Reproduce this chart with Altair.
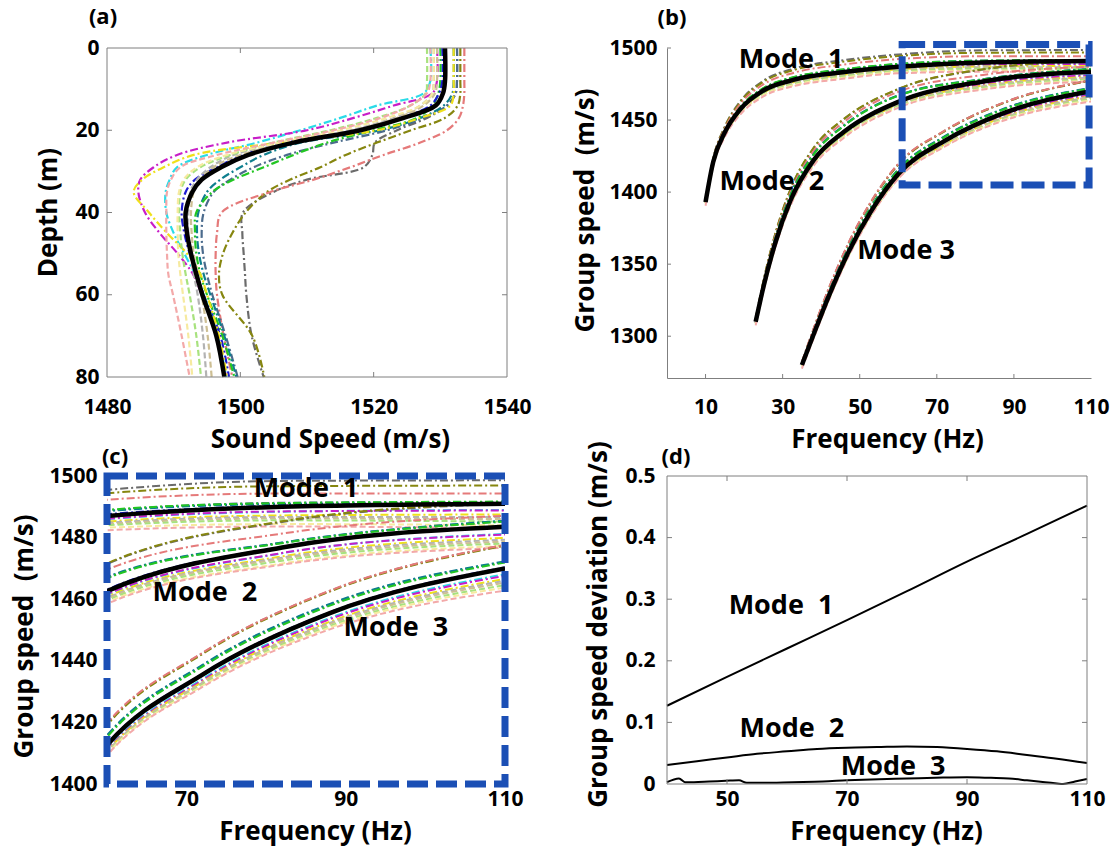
import altair as alt
import pandas as pd

FONT = "Open Sans"
BLUE = "#1b4fb5"
GREY = "#7f7f7f"

# ---------------- (a) sound speed profiles ----------------
DEPTH = [0, 8, 11, 14, 17, 20, 23, 26, 29, 32, 35, 40, 45, 50, 55, 60, 70, 80]
SSP_MEAN = [1530.7, 1530.7, 1530.4, 1529.3, 1524.5, 1518.0, 1508.0, 1501.2, 1497.1,
            1494.2, 1492.8, 1491.8, 1492.0, 1492.6, 1493.4, 1494.3, 1496.4, 1497.6]

PROFILES = ["dgrey", "olive", "salmon", "slate", "teal", "green", "blue", "cyan",
            "magenta", "yellow", "lgrey", "khaki", "lgreen", "lyellow", "pink"]
COLORS = ["#6b6b6b", "#86860f", "#e57a7a", "#4b6b8d", "#0e7e8e", "#22c622", "#1c1cd2",
          "#2adbe8", "#c81ec8", "#efe01a", "#b3b3b3", "#cdbf94", "#a8e27e", "#f6eaa0", "#f3a9a9"]
DASH_STYLE = ["dashdot"] * 10 + ["dashed"] * 5

SSP = {
    "dgrey":   [1532.5, 1532.5, 1532.3, 1531.0, 1528.0, 1523.5, 1520.2, 1519.8, 1518.5, 1510.0, 1505.0, 1500.4, 1500.3, 1500.5, 1500.7, 1500.9, 1501.7, 1503.5],
    "olive":   [1533.0, 1533.0, 1533.0, 1532.6, 1530.7, 1525.6, 1520.5, 1515.8, 1512.0, 1507.5, 1504.0, 1500.8, 1498.8, 1497.4, 1496.8, 1497.3, 1501.8, 1503.6],
    "salmon":  [1533.6, 1533.6, 1533.6, 1533.4, 1532.8, 1531.0, 1527.0, 1521.5, 1516.5, 1511.0, 1504.5, 1497.2, 1496.5, 1496.3, 1496.3, 1496.5, 1497.5, 1498.8],
    "slate":   [1532.5, 1532.5, 1532.3, 1531.0, 1527.5, 1522.0, 1514.0, 1507.0, 1502.0, 1498.5, 1496.0, 1494.5, 1494.2, 1494.4, 1495.0, 1495.8, 1497.8, 1499.6],
    "teal":    [1532.0, 1532.0, 1531.8, 1530.5, 1527.0, 1521.0, 1509.0, 1503.5, 1500.0, 1497.0, 1495.0, 1493.7, 1493.5, 1493.8, 1494.5, 1495.5, 1497.6, 1499.4],
    "green":   [1530.0, 1530.0, 1529.7, 1528.8, 1526.5, 1520.0, 1513.0, 1508.0, 1503.5, 1499.0, 1495.8, 1493.4, 1493.2, 1493.4, 1494.0, 1495.0, 1497.3, 1499.1],
    "blue":    [1530.3, 1530.3, 1529.8, 1528.5, 1524.0, 1517.0, 1507.0, 1500.5, 1496.5, 1493.2, 1491.8, 1491.2, 1491.6, 1492.4, 1493.5, 1494.5, 1497.0, 1498.3],
    "cyan":    [1528.5, 1528.5, 1527.5, 1520.5, 1515.0, 1509.0, 1502.5, 1495.0, 1490.5, 1489.4, 1488.8, 1488.9, 1490.0, 1491.6, 1493.2, 1494.5, 1496.6, 1497.9],
    "magenta": [1529.5, 1529.5, 1528.8, 1523.0, 1517.0, 1510.0, 1498.0, 1490.5, 1487.0, 1485.0, 1484.7, 1485.7, 1487.9, 1490.6, 1492.9, 1494.2, 1496.4, 1497.9],
    "yellow":  [1532.0, 1532.0, 1532.0, 1531.5, 1527.0, 1520.5, 1506.0, 1493.0, 1488.5, 1485.3, 1484.0, 1486.3, 1489.0, 1492.0, 1494.0, 1495.0, 1496.8, 1498.0],
    "lgrey":   [1529.0, 1529.0, 1528.8, 1527.0, 1523.0, 1516.5, 1507.0, 1499.0, 1495.5, 1493.5, 1492.5, 1492.2, 1492.2, 1492.5, 1493.0, 1493.6, 1494.4, 1494.9],
    "khaki":   [1529.5, 1529.5, 1529.2, 1527.5, 1523.5, 1517.0, 1507.5, 1500.0, 1496.0, 1494.0, 1493.0, 1492.6, 1492.7, 1493.0, 1493.6, 1494.2, 1495.1, 1495.7],
    "lgreen":  [1528.0, 1528.0, 1527.8, 1525.5, 1520.5, 1513.5, 1505.0, 1498.5, 1494.0, 1491.8, 1491.0, 1490.8, 1491.0, 1491.3, 1491.8, 1492.4, 1493.4, 1494.1],
    "lyellow": [1529.0, 1529.0, 1528.8, 1527.0, 1522.0, 1515.0, 1506.0, 1498.0, 1493.5, 1491.5, 1490.8, 1490.6, 1490.6, 1490.7, 1491.0, 1491.4, 1492.2, 1492.8],
    "pink":    [1528.5, 1528.5, 1528.0, 1525.5, 1521.0, 1514.0, 1505.0, 1496.5, 1491.0, 1489.6, 1489.0, 1488.9, 1488.9, 1489.0, 1489.2, 1489.9, 1491.2, 1492.4],
}

# ---------------- (b)/(c) group speed ----------------
F1 = [10, 12, 15, 19, 25, 33, 45, 60, 82, 110]
GS1 = [1393.0, 1421.0, 1441.5, 1457.5, 1470.5, 1478.0, 1483.0, 1487.0, 1490.0, 1491.0]
F2 = [23, 25, 28, 32, 38, 46, 60, 82, 110]
GS2 = [1310.0, 1334.0, 1364.0, 1394.0, 1422.0, 1442.0, 1462.6, 1476.8, 1483.5]
F3 = [35, 38, 42, 47, 53, 60, 72, 88, 110]
GS3 = [1280.0, 1301.0, 1328.0, 1358.0, 1387.0, 1412.6, 1435.5, 1455.5, 1470.0]

# deviation of each profile's group speed from the mean curve (m/s)
OFF1 = {
    "dgrey":   [1.0, 2.5, 4.0, 5.5, 6.8, 7.8, 8.3, 8.5, 8.4, 7.6],
    "olive":   [0.9, 2.2, 3.6, 4.9, 6.0, 6.8, 7.2, 7.4, 6.7, 5.9],
    "salmon":  [0.7, 1.6, 2.6, 3.5, 4.3, 4.9, 5.2, 5.3, 4.3, 3.3],
    "slate":   [0.3, 0.7, 1.0, 1.3, 1.5, 1.7, 1.8, 1.8, 1.3, 0.6],
    "teal":    [0.3, 0.6, 0.9, 1.1, 1.3, 1.5, 1.6, 1.6, 0.9, 0.2],
    "green":   [0.3, 0.7, 1.1, 1.4, 1.7, 1.9, 2.0, 2.0, 1.2, 0.7],
    "blue":    [0.1, 0.2, 0.3, 0.4, 0.5, 0.6, 0.6, 0.6, 0.3, 0.1],
    "cyan":    [-0.2, -0.4, -0.6, -0.8, -0.9, -1.0, -1.0, -1.0, -1.6, -2.0],
    "magenta": [-0.2, -0.4, -0.6, -0.7, -0.8, -0.9, -0.9, -0.9, -1.5, -2.2],
    "yellow":  [-0.4, -0.8, -1.1, -1.4, -1.6, -1.7, -1.8, -1.8, -2.8, -3.5],
    "lgrey":   [-0.5, -0.9, -1.3, -1.7, -1.9, -2.1, -2.2, -2.2, -3.3, -4.3],
    "khaki":   [-0.6, -1.1, -1.6, -2.0, -2.3, -2.5, -2.6, -2.6, -3.8, -5.0],
    "lgreen":  [-0.7, -1.3, -1.8, -2.3, -2.6, -2.9, -3.0, -3.0, -4.4, -5.8],
    "lyellow": [-0.9, -1.6, -2.3, -2.9, -3.3, -3.6, -3.8, -3.8, -5.6, -7.0],
    "pink":    [-2.5, -2.8, -3.2, -3.7, -4.1, -4.4, -4.6, -4.6, -6.4, -8.0],
}
OFF2 = {
    "dgrey":   [2.0, 4.0, 6.0, 7.5, 8.4, 8.8, 8.8, 8.3, 7.5],
    "olive":   [2.0, 4.2, 6.3, 7.8, 8.6, 9.0, 9.0, 8.5, 7.7],
    "salmon":  [1.5, 3.0, 4.5, 5.5, 6.3, 6.8, 7.0, 4.5, 3.6],
    "slate":   [0.8, 1.8, 2.8, 3.6, 4.1, 4.3, 4.4, 1.5, 1.9],
    "teal":    [0.9, 1.9, 3.0, 3.8, 4.3, 4.6, 4.6, 1.6, 2.0],
    "green":   [0.7, 1.6, 2.5, 3.3, 3.8, 4.1, 4.2, 1.4, 1.7],
    "blue":    [0.2, 0.3, 0.4, 0.5, 0.5, 0.5, 0.5, 0.2, 0.1],
    "cyan":    [-0.5, -0.8, -1.0, -1.1, -1.2, -1.2, -1.2, -1.9, -2.3],
    "magenta": [-0.4, -0.7, -0.9, -1.0, -1.0, -1.0, -1.0, -1.8, -2.5],
    "yellow":  [-0.7, -1.1, -1.4, -1.6, -1.7, -1.8, -1.8, -2.9, -3.6],
    "lgrey":   [-0.8, -1.3, -1.7, -1.9, -2.1, -2.2, -2.2, -3.3, -4.2],
    "khaki":   [-0.9, -1.5, -1.9, -2.2, -2.4, -2.5, -2.5, -3.7, -4.8],
    "lgreen":  [-1.1, -1.8, -2.3, -2.7, -2.9, -3.0, -3.0, -4.3, -5.4],
    "lyellow": [-1.4, -2.2, -2.8, -3.2, -3.5, -3.6, -3.6, -5.2, -6.2],
    "pink":    [-2.5, -3.0, -3.4, -3.7, -3.9, -4.1, -4.1, -5.6, -6.8],
}
OFF3 = {
    "dgrey":   [2.0, 3.8, 5.2, 6.0, 6.5, 6.8, 7.0, 7.2, 7.6],
    "olive":   [1.8, 3.5, 4.8, 5.6, 6.1, 6.5, 6.7, 7.0, 7.4],
    "salmon":  [2.2, 4.0, 5.5, 6.3, 6.8, 7.1, 7.1, 7.3, 7.7],
    "slate":   [0.8, 1.6, 2.3, 2.7, 2.9, 3.0, 3.0, 2.8, 2.1],
    "teal":    [0.9, 1.8, 2.5, 2.9, 3.1, 3.2, 3.2, 3.0, 2.3],
    "green":   [0.7, 1.4, 2.0, 2.3, 2.5, 2.6, 2.6, 2.4, 1.9],
    "blue":    [0.1, 0.2, 0.3, 0.3, 0.3, 0.3, 0.3, 0.3, 0.3],
    "cyan":    [-0.4, -0.8, -1.1, -1.3, -1.4, -1.4, -1.4, -1.6, -1.9],
    "magenta": [-0.5, -0.9, -1.3, -1.5, -1.6, -1.7, -1.8, -2.0, -2.4],
    "yellow":  [-0.6, -1.1, -1.5, -1.8, -1.9, -2.0, -2.3, -2.8, -3.4],
    "lgrey":   [-0.7, -1.2, -1.7, -2.0, -2.1, -2.2, -2.6, -3.2, -4.0],
    "khaki":   [-0.8, -1.4, -1.9, -2.2, -2.4, -2.5, -2.9, -3.6, -4.6],
    "lgreen":  [-0.9, -1.6, -2.2, -2.5, -2.7, -2.8, -3.3, -4.2, -5.4],
    "lyellow": [-1.0, -1.8, -2.4, -2.8, -2.9, -3.0, -3.6, -4.7, -6.2],
    "pink":    [-2.5, -2.8, -3.0, -3.2, -3.3, -3.3, -4.0, -5.3, -7.2],
}

# ---------------- (d) group speed deviation ----------------
DEV_F1 = [40, 50, 60, 70, 80, 90, 100, 110]
DEV_1 = [0.127, 0.174, 0.220, 0.266, 0.313, 0.361, 0.406, 0.452]
DEV_F2 = [40, 45, 50, 55, 60, 65, 70, 75, 80, 85, 90, 95, 100, 105, 110]
DEV_2 = [0.031, 0.037, 0.043, 0.049, 0.053, 0.057, 0.059, 0.060, 0.061, 0.060, 0.057, 0.053, 0.047, 0.041, 0.034]
DEV_F3 = [40, 42, 43, 44.5, 47, 50.5, 52, 53.3, 56, 61, 66, 70, 74, 78, 82, 86, 90, 94, 97, 100, 103, 105, 106, 108, 110]
DEV_3 = [0.003, 0.009, 0.003, 0.003, 0.004, 0.0055, 0.006, 0.002, 0.002, 0.003, 0.004, 0.006, 0.0075,
         0.0085, 0.0095, 0.0105, 0.011, 0.010, 0.009, 0.006, 0.003, 0.001, 0.000, 0.004, 0.008]

# text labels
B_LABELS = ["Mode\u00a0 1", "Mode\u00a0 2", "Mode 3"]
B_LX = [32.2, 27.2, 62.0]
B_LY = [1491.6, 1407.0, 1359.0]
C_LABELS = ["Mode\u00a0 1", "Mode\u00a0 2", "Mode\u00a0 3"]
C_LX = [85.0, 72.3, 96.3]
C_LY = [1495.7, 1462.0, 1450.5]
D_LABELS = ["Mode\u00a0 1", "Mode\u00a0 2", "Mode\u00a0 3"]
D_LX = [59.0, 60.8, 77.7]
D_LY = [0.289, 0.089, 0.028]

# ---------------- tables ----------------
ssp_rows = []
for i, n in enumerate(PROFILES):
    for d, s in zip(DEPTH, SSP[n]):
        ssp_rows.append({"name": n, "dash": DASH_STYLE[i], "depth": d, "speed": s})
df_ssp = pd.DataFrame(ssp_rows)
df_ssp_mean = pd.DataFrame({"depth": DEPTH, "speed": SSP_MEAN})

gs_rows, mean_rows = [], []
for mode, F, M, OFF in ((1, F1, GS1, OFF1), (2, F2, GS2, OFF2), (3, F3, GS3, OFF3)):
    for f, m in zip(F, M):
        mean_rows.append({"mode": mode, "f": f, "v": m})
    for i, n in enumerate(PROFILES):
        for f, m, o in zip(F, M, OFF[n]):
            gs_rows.append({"name": n, "dash": DASH_STYLE[i], "series": f"{n}-{mode}",
                            "f": f, "v": round(m + o, 2)})
df_gs = pd.DataFrame(gs_rows)
df_gs_mean = pd.DataFrame(mean_rows)

dev_rows = []
for mode, F, V in ((1, DEV_F1, DEV_1), (2, DEV_F2, DEV_2), (3, DEV_F3, DEV_3)):
    for f, v in zip(F, V):
        dev_rows.append({"mode": mode, "f": f, "v": v})
df_dev = pd.DataFrame(dev_rows)

one = pd.DataFrame({"k": [0]})

color_enc = alt.Color("name:N", scale=alt.Scale(domain=PROFILES, range=COLORS), legend=None)
dash_enc = alt.StrokeDash("dash:N", scale=alt.Scale(domain=["dashed", "dashdot"],
                                                      range=[[6, 3], [8, 3, 2, 3]]), legend=None)

TXT = dict(font=FONT, fontWeight="bold", color="black")


class Panel:
    """Shared scales/axes of one panel so that every layer uses identical ones."""

    def __init__(self, xscale, yscale, xaxis, yaxis):
        self.xs, self.ys, self.xa, self.ya = xscale, yscale, xaxis, yaxis

    def X(self, f):
        return alt.X(f, type="quantitative", scale=self.xs, axis=self.xa)

    def Y(self, f):
        return alt.Y(f, type="quantitative", scale=self.ys, axis=self.ya)

    def xticks(self, vals, h, both=True, ln=5):
        d = pd.DataFrame({"t": vals})
        out = [alt.Chart(d).mark_rule(color=GREY, strokeWidth=1).encode(
            x=self.X("t"), y=alt.value(h), y2=alt.value(h - ln))]
        if both:
            out.append(alt.Chart(d).mark_rule(color=GREY, strokeWidth=1).encode(
                x=self.X("t"), y=alt.value(0), y2=alt.value(ln)))
        return out

    def yticks(self, vals, w, both=True, ln=5):
        d = pd.DataFrame({"t": vals})
        out = [alt.Chart(d).mark_rule(color=GREY, strokeWidth=1).encode(
            y=self.Y("t"), x=alt.value(0), x2=alt.value(ln))]
        if both:
            out.append(alt.Chart(d).mark_rule(color=GREY, strokeWidth=1).encode(
                y=self.Y("t"), x=alt.value(w), x2=alt.value(w - ln)))
        return out

    def labels(self, texts, xs, ys):
        d = pd.DataFrame({"x": xs, "y": ys, "t": texts})
        return alt.Chart(d).mark_text(fontSize=27, align="center", baseline="middle", **TXT).encode(
            x=self.X("x"), y=self.Y("y"), text="t:N")


def letter(t, dx, dy):
    return alt.Chart(one).mark_text(text=t, fontSize=22, align="center", baseline="middle", **TXT).encode(
        x=alt.value(dx), y=alt.value(dy))


def frame(w, h, **kw):
    return alt.Chart(one).mark_rect(filled=False, **kw).encode(
        x=alt.value(0), x2=alt.value(w), y=alt.value(0), y2=alt.value(h))


def make_axis(vals, title, pad, tx, ty, **kw):
    return alt.Axis(values=vals, title=title, labelPadding=pad, titleX=tx, titleY=ty,
                    titleBaseline="middle", titleAlign="center", **kw)


# ---------------- panel (a) ----------------
WA, HA = 400, 329
pa = Panel(
    alt.Scale(domain=[1480, 1540], nice=False, zero=False),
    alt.Scale(domain=[0, 80], reverse=True, nice=False, zero=False),
    make_axis([1480, 1500, 1520, 1540], "Sound Speed (m/s)", 19, 223, 62, format="d"),
    make_axis([0, 20, 40, 60, 80], "Depth (m)", 8, -59, 164, format="d"),
)
a_lines = alt.Chart(df_ssp).mark_line(strokeWidth=2.2, interpolate="catmull-rom").encode(
    x=pa.X("speed"), y=pa.Y("depth"), color=color_enc, strokeDash=dash_enc, order="depth:Q")
a_mean = alt.Chart(df_ssp_mean).mark_line(color="black", strokeWidth=4.5, interpolate="catmull-rom").encode(
    x=pa.X("speed"), y=pa.Y("depth"), order="depth:Q")
panel_a = alt.layer(
    a_lines, a_mean, frame(WA, HA, stroke=GREY, strokeWidth=1),
    *pa.xticks([1500, 1520], HA), *pa.yticks([20, 40, 60], WA),
    letter("(a)", -4, -31)
).properties(width=WA, height=HA)

# ---------------- panel (b) ----------------
WB, HB = 424, 330
pb = Panel(
    alt.Scale(domain=[0, 110], nice=False, zero=False),
    alt.Scale(domain=[1271, 1500], nice=False, zero=False),
    make_axis([10, 30, 50, 70, 90, 110], "Frequency (Hz)", 18, 220, 61, format="d",
              domain=True, domainColor=GREY),
    make_axis([1300, 1350, 1400, 1450, 1500], "Group speed\u00a0 (m/s)", 10, -82, 162, format="d",
              domain=True, domainColor=GREY),
)
b_lines = alt.Chart(df_gs).mark_line(strokeWidth=2, interpolate="monotone", clip=True).encode(
    x=pb.X("f"), y=pb.Y("v"), color=color_enc, strokeDash=dash_enc, detail="series:N")
b_mean = alt.Chart(df_gs_mean).mark_line(color="black", strokeWidth=4.5, interpolate="monotone").encode(
    x=pb.X("f"), y=pb.Y("v"), detail="mode:N")
box_b = alt.Chart(pd.DataFrame({"x": [61], "x2": [109.5], "y": [1405], "y2": [1502.5]})).mark_rect(
    filled=False, stroke=BLUE, strokeWidth=7, strokeDash=[23, 8]).encode(
    x=pb.X("x"), x2="x2:Q", y=pb.Y("y"), y2="y2:Q")
panel_b = alt.layer(
    b_lines, b_mean, box_b,
    *pb.xticks([10, 30, 50, 70, 90], HB, both=False, ln=4),
    *pb.yticks([1300, 1350, 1400, 1450, 1500], WB, both=False, ln=4),
    pb.labels(B_LABELS, B_LX, B_LY),
    letter("(b)", 5, -30)
).properties(width=WB, height=HB)

# ---------------- panel (c) ----------------
WC, HC = 398, 308
pc = Panel(
    alt.Scale(domain=[60, 110], nice=False, zero=False),
    alt.Scale(domain=[1400, 1500], nice=False, zero=False),
    make_axis([70, 90, 110], "Frequency (Hz)", 4, 208, 47, format="d"),
    make_axis([1400, 1420, 1440, 1460, 1480, 1500], "Group speed\u00a0 (m/s)", 10, -83, 160, format="d"),
)
c_lines = alt.Chart(df_gs).mark_line(strokeWidth=2, interpolate="monotone", clip=True).encode(
    x=pc.X("f"), y=pc.Y("v"), color=color_enc, strokeDash=dash_enc, detail="series:N")
c_mean = alt.Chart(df_gs_mean).mark_line(color="black", strokeWidth=4.5, interpolate="monotone",
                                         clip=True).encode(
    x=pc.X("f"), y=pc.Y("v"), detail="mode:N")
panel_c = alt.layer(
    c_lines, c_mean, frame(WC, HC, stroke=BLUE, strokeWidth=7, strokeDash=[21, 8]),
    pc.labels(C_LABELS, C_LX, C_LY),
    letter("(c)", 8, -19)
).properties(width=WC, height=HC)

# ---------------- panel (d) ----------------
WD, HD = 420, 308
pd_ = Panel(
    alt.Scale(domain=[40, 110], nice=False, zero=False),
    alt.Scale(domain=[0, 0.5], nice=False, zero=False),
    make_axis([50, 70, 90, 110], "Frequency (Hz)", 4, 219, 47, format="d"),
    make_axis([0, 0.1, 0.2, 0.3, 0.4, 0.5], "Group speed deviation (m/s)", 12, -69, 148, format=".1~f"),
)
d_lines = alt.Chart(df_dev).mark_line(color="black", strokeWidth=2, interpolate="monotone").encode(
    x=pd_.X("f"), y=pd_.Y("v"), detail="mode:N")
panel_d = alt.layer(
    d_lines, frame(WD, HD, stroke=GREY, strokeWidth=1),
    *pd_.xticks([50, 70, 90], HD), *pd_.yticks([0.1, 0.2, 0.3, 0.4], WD),
    pd_.labels(D_LABELS, D_LX, D_LY),
    letter("(d)", 9, -19)
).properties(width=WD, height=HD)

chart = alt.concat(
    panel_a, panel_b, panel_c, panel_d, columns=2,
    spacing={"row": 98, "column": 160}, bounds="flush", align="each"
).properties(
    padding={"left": 11, "top": 6, "right": 0, "bottom": 5}
).configure_view(stroke=None).configure_axis(
    labelFont=FONT, labelFontSize=21, labelFontWeight="bold", labelColor="black",
    titleFont=FONT, titleFontSize=26, titleFontWeight="bold", titleColor="black",
    grid=False, ticks=False, domain=False, labelFlush=False, labelOverlap=False
)

chart.save("out.html", embed_options={"renderer": "svg", "actions": False})
